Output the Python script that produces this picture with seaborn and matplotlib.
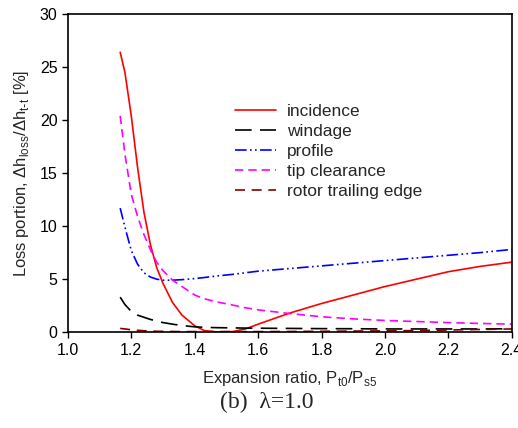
import matplotlib
matplotlib.use("Agg")
import matplotlib.pyplot as plt
import seaborn as sns
import pandas as pd

x = [1.165, 1.18, 1.2, 1.22, 1.24, 1.26, 1.28, 1.3, 1.33, 1.36, 1.4, 1.43, 1.47, 1.52, 1.56,
     1.6, 1.7, 1.8, 1.9, 2.0, 2.1, 2.2, 2.3, 2.4]
incidence = [26.4, 24.5, 20.4, 15.5, 11.3, 8.3, 6.1, 4.6, 2.8, 1.6, 0.6, 0.15, 0.02, 0.05, 0.3,
             0.75, 1.8, 2.7, 3.5, 4.3, 5.0, 5.7, 6.2, 6.6]
windage = [3.3, 2.6, 1.95, 1.6, 1.4, 1.2, 1.05, 0.9, 0.75, 0.62, 0.5, 0.45, 0.42, 0.4, 0.38,
           0.37, 0.35, 0.33, 0.32, 0.3, 0.3, 0.3, 0.3, 0.32]
profile = [11.7, 9.9, 7.7, 6.4, 5.6, 5.2, 5.0, 4.9, 4.9, 4.95, 5.05, 5.15, 5.3, 5.45, 5.6,
           5.75, 6.0, 6.25, 6.5, 6.75, 7.0, 7.25, 7.5, 7.8]
tip_clearance = [20.4, 16.8, 13.0, 10.9, 9.2, 7.8, 6.6, 5.8, 4.9, 4.3, 3.5, 3.15, 2.85, 2.55, 2.3,
                 2.1, 1.75, 1.45, 1.25, 1.1, 1.0, 0.9, 0.82, 0.75]
trailing_edge = [0.35, 0.3, 0.22, 0.17, 0.13, 0.1, 0.08, 0.07, 0.06, 0.05, 0.05, 0.05, 0.05, 0.05, 0.05,
                 0.05, 0.06, 0.08, 0.1, 0.12, 0.15, 0.2, 0.25, 0.3]

series = [
    ("incidence", incidence, "#ff0000", "-"),
    ("windage", windage, "#000000", (0, (10, 5))),
    ("profile", profile, "#0000ff", (0, (7, 2, 1, 2, 1, 2))),
    ("tip clearance", tip_clearance, "#ff00ff", (0, (5, 3))),
    ("rotor trailing edge", trailing_edge, "#800000", (0, (6, 4))),
]

sns.set_style("ticks")
plt.rcParams['font.family'] = ['Liberation Sans', 'DejaVu Sans']

fig = plt.figure(figsize=(5.18, 4.28), dpi=100)
ax = fig.add_axes([0.131, 0.224, 0.857, 0.743])

for name, vals, color, ls in series:
    df = pd.DataFrame({"x": x, "y": vals})
    sns.lineplot(data=df, x="x", y="y", ax=ax, color=color, linestyle=ls,
                 linewidth=1.2, label=name)

ax.set_xlim(1.0, 2.4)
ax.set_ylim(0, 30)
ax.set_xticks([1.0, 1.2, 1.4, 1.6, 1.8, 2.0, 2.2, 2.4])
ax.set_xticklabels(["1.0", "1.2", "1.4", "1.6", "1.8", "2.0", "2.2", "2.4"])
ax.set_yticks([0, 5, 10, 15, 20, 25, 30])
ax.tick_params(labelsize=11.5, direction="out", length=4, width=1, colors="black")
for s in ax.spines.values():
    s.set_linewidth(1.2)
    s.set_color("black")
ax.set_xlabel(r"Expansion ratio, P$_{\mathregular{t0}}$/P$_{\mathregular{s5}}$", fontsize=12, labelpad=8)
ax.set_ylabel(r"Loss portion, $\mathregular{\Delta}$h$_{\mathregular{loss}}$/$\mathregular{\Delta}$h$_{\mathregular{t\text{-}t}}$ [%]", fontsize=12, labelpad=6)

leg = ax.legend(loc="upper left", bbox_to_anchor=(0.36, 0.74), frameon=False,
                fontsize=12.5, handlelength=2.4, handletextpad=0.6, labelspacing=0.28,
                borderaxespad=0)

fig.text(0.515, 0.035, "(b)  λ=1.0", fontsize=17, family=["Liberation Serif", "DejaVu Serif"],
         ha="center", va="bottom")

fig.savefig("out.png", dpi=100)
